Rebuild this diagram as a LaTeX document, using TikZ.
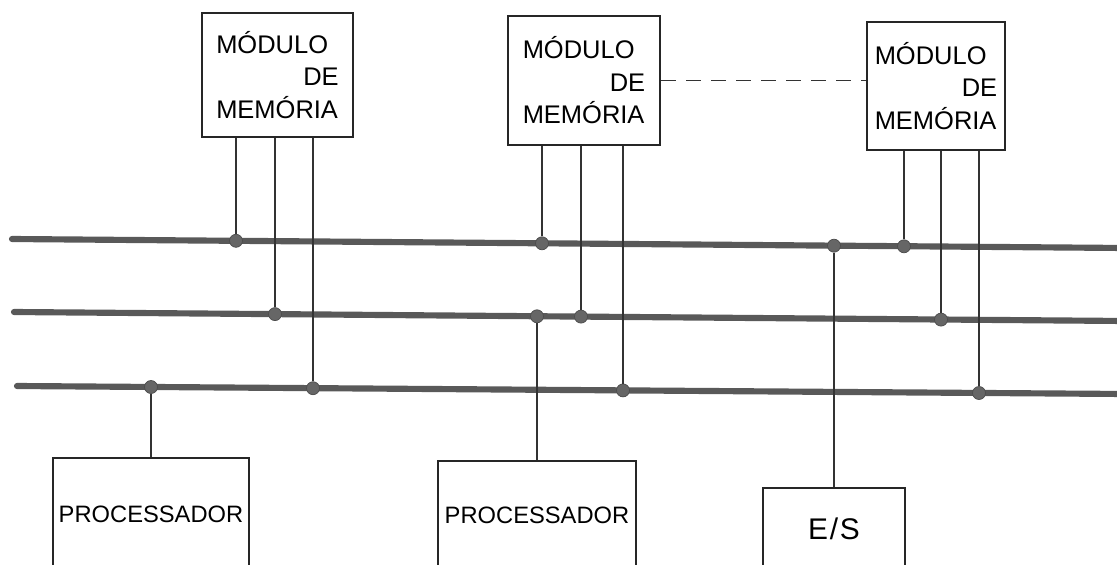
\documentclass[tikz,border=0pt]{standalone}
\usepackage{fontspec}
\setmainfont{Liberation Sans}
\usetikzlibrary{positioning}

\newcommand{\modtext}{MÓDULO\\\hspace*{\fill}DE\\MEMÓRIA}

\begin{document}
\begin{tikzpicture}[x=0.02cm, y=-0.02cm,
  box/.style={draw=black!85, line width=1.3pt, inner sep=0pt},
  modbox/.style={box, text width=2.45cm, align=left,
    font=\fontsize{14.5}{18.5}\selectfont},
  procbox/.style={box, font=\fontsize{13.5}{16}\selectfont},
  bus/.style={draw=black!65, line width=3.5pt, line cap=round},
  wire/.style={draw=black!80, line width=0.8pt},
  dot/.style={circle, fill=black!60, draw=black!70, inner sep=0pt, minimum size=0.26cm}]
\useasboundingbox (0,0) rectangle (1117,565);
% ---- buses ----
\coordinate (b1w) at (12,239);  \coordinate (b1e) at (1125,248);
\coordinate (b2w) at (14,312);  \coordinate (b2e) at (1125,321);
\coordinate (b3w) at (17,386);  \coordinate (b3e) at (1125,394);
\draw[bus] (b1w) -- (b1e);
\draw[bus] (b2w) -- (b2e);
\draw[bus] (b3w) -- (b3e);
% ---- memory modules ----
\node[modbox, minimum width=3.02cm, minimum height=2.48cm] (m1) at (277.5,75) {\modtext};
\node[modbox, minimum width=3.04cm, minimum height=2.58cm] (m2) at (584,80.5) {\modtext};
\node[modbox, minimum width=2.76cm, minimum height=2.56cm] (m3) at (936,86) {\modtext};
\draw[wire, line width=0.6pt, dash pattern=on 0.3cm off 0.2cm]
  (m2.east) -- (m2.east -| m3.west);
% ---- processors, E/S ----
\node[procbox, minimum width=3.92cm, minimum height=2.24cm] (p1) at (151,514) {PROCESSADOR};
\node[procbox, minimum width=3.96cm, minimum height=2.18cm] (p2) at (537,515.5) {PROCESSADOR};
\node[box, minimum width=2.84cm, minimum height=1.64cm,
  font=\fontsize{17}{20}\selectfont] (es) at (834,529) {E\kern1pt/\kern1pt S};
% ---- junctions ----
\node[dot] (j1a) at (236,240.8) {};
\node[dot] (j1b) at (542,243.3) {};
\node[dot] (j1c) at (834,245.7) {};
\node[dot] (j1d) at (904,246.3) {};
\node[dot] (j2a) at (275,314.1) {};
\node[dot] (j2b) at (537,316.3) {};
\node[dot] (j2c) at (581,316.6) {};
\node[dot] (j2d) at (941,319.6) {};
\node[dot] (j3a) at (151,387) {};
\node[dot] (j3b) at (313,388.2) {};
\node[dot] (j3c) at (623,390.4) {};
\node[dot] (j3d) at (979,393) {};
% ---- taps ----
\draw[wire] (m1.south -| j1a) -- (j1a);
\draw[wire] (m1.south -| j2a) -- (j2a);
\draw[wire] (m1.south -| j3b) -- (j3b);
\draw[wire] (m2.south -| j1b) -- (j1b);
\draw[wire] (m2.south -| j2c) -- (j2c);
\draw[wire] (m2.south -| j3c) -- (j3c);
\draw[wire] (m3.south -| j1d) -- (j1d);
\draw[wire] (m3.south -| j2d) -- (j2d);
\draw[wire] (m3.south -| j3d) -- (j3d);
\draw[wire] (j3a) -- (p1.north);
\draw[wire] (j2b) -- (p2.north);
\draw[wire] (j1c) -- (es.north);
\end{tikzpicture}
\end{document}
